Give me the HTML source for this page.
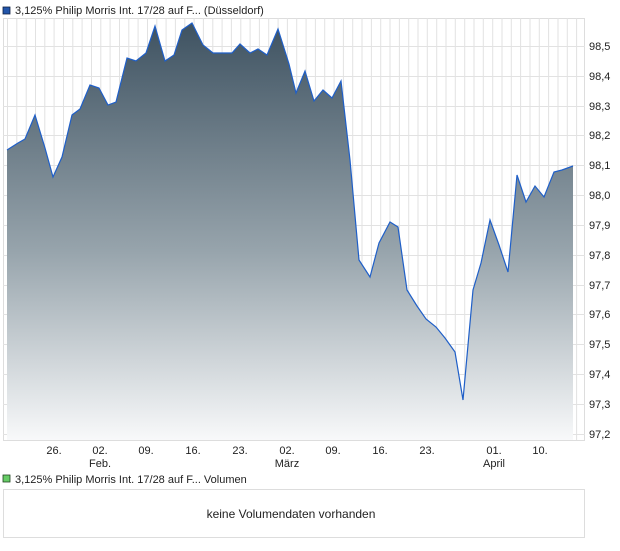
<!DOCTYPE html>
<html><head><meta charset="utf-8"><style>
body{margin:0;background:#fff;font-family:"Liberation Sans",sans-serif;}
</style></head><body>
<svg width="620" height="546" xmlns="http://www.w3.org/2000/svg" font-family="Liberation Sans, sans-serif">
<defs><linearGradient id="g" gradientUnits="userSpaceOnUse" x1="0" y1="20" x2="0" y2="440">
<stop offset="0" stop-color="#3d5160"/><stop offset="0.55" stop-color="#97a4ac"/><stop offset="1" stop-color="#f8f9fa"/></linearGradient></defs>
<rect x="3" y="7" width="7" height="7" fill="#2255aa" stroke="#112244" stroke-width="0.8"/>
<text x="15" y="14" font-size="11" fill="#222">3,125% Philip Morris Int. 17/28 auf F... (Düsseldorf)</text>
<rect x="3.5" y="18.5" width="581" height="422" fill="#fff" stroke="#ddd"/>
<g stroke="#e2e2e2" stroke-width="1">
<line x1="3" y1="46.5" x2="585" y2="46.5"/><line x1="3" y1="76.5" x2="585" y2="76.5"/><line x1="3" y1="106.5" x2="585" y2="106.5"/><line x1="3" y1="135.5" x2="585" y2="135.5"/><line x1="3" y1="165.5" x2="585" y2="165.5"/><line x1="3" y1="195.5" x2="585" y2="195.5"/><line x1="3" y1="225.5" x2="585" y2="225.5"/><line x1="3" y1="255.5" x2="585" y2="255.5"/><line x1="3" y1="285.5" x2="585" y2="285.5"/><line x1="3" y1="314.5" x2="585" y2="314.5"/><line x1="3" y1="344.5" x2="585" y2="344.5"/><line x1="3" y1="374.5" x2="585" y2="374.5"/><line x1="3" y1="404.5" x2="585" y2="404.5"/><line x1="3" y1="434.5" x2="585" y2="434.5"/>
</g>
<g stroke="#e2e2e2" id="vg"></g>
<polygon fill="url(#g)" points="7,440 7,150 18,143 25,139 35,115 45,148 53,177 62,157 72,115 80,109 90,85 99,88 108,105 116,102 127,58 136,61 146,53 155,26 165,61 174,55 182,30 192,23 203,45 213,53 222,53 232,53 240,44 250,53 258,49 267,55 278,29 289,64 296,93 305,71 314,101 323,90 332,98 341,81 350,160 359,260 370,277 379,243 390,222 398,227 407,290 417,306 426,319 436,327 445,338 455,352 463,400 473,290 481,263 490,220 499,245 508,272 517,175 526,202 535,186 544,197 554,172 562,170 573,166 573,440"/>
<polyline fill="none" stroke="#1f5fc8" stroke-width="1.2" points="7,150 18,143 25,139 35,115 45,148 53,177 62,157 72,115 80,109 90,85 99,88 108,105 116,102 127,58 136,61 146,53 155,26 165,61 174,55 182,30 192,23 203,45 213,53 222,53 232,53 240,44 250,53 258,49 267,55 278,29 289,64 296,93 305,71 314,101 323,90 332,98 341,81 350,160 359,260 370,277 379,243 390,222 398,227 407,290 417,306 426,319 436,327 445,338 455,352 463,400 473,290 481,263 490,220 499,245 508,272 517,175 526,202 535,186 544,197 554,172 562,170 573,166"/>
<g font-size="11" fill="#222">
<text x="589" y="50">98,5</text><text x="589" y="80">98,4</text><text x="589" y="110">98,3</text><text x="589" y="139">98,2</text><text x="589" y="169">98,1</text><text x="589" y="199">98,0</text><text x="589" y="229">97,9</text><text x="589" y="259">97,8</text><text x="589" y="289">97,7</text><text x="589" y="318">97,6</text><text x="589" y="348">97,5</text><text x="589" y="378">97,4</text><text x="589" y="408">97,3</text><text x="589" y="438">97,2</text>
</g>
<g font-size="11" fill="#222" text-anchor="middle">
<text x="54" y="454">26.</text><text x="100" y="454">02.</text><text x="146" y="454">09.</text><text x="193" y="454">16.</text><text x="240" y="454">23.</text><text x="287" y="454">02.</text><text x="333" y="454">09.</text><text x="380" y="454">16.</text><text x="427" y="454">23.</text><text x="494" y="454">01.</text><text x="540" y="454">10.</text>
<text x="100" y="467">Feb.</text><text x="287" y="467">März</text><text x="494" y="467">April</text>
</g>
<rect x="3" y="475" width="7" height="7" fill="#66cc66" stroke="#224422" stroke-width="0.8"/>
<text x="15" y="483" font-size="11" fill="#222">3,125% Philip Morris Int. 17/28 auf F... Volumen</text>
<rect x="3.5" y="489.5" width="581" height="48" fill="#fff" stroke="#ddd"/>
<text x="291" y="518" font-size="12" fill="#222" text-anchor="middle">keine Volumendaten vorhanden</text>
</svg>
<script>
var g=document.getElementById('vg');var s='';
for(var x=7.5;x<585;x+=9.33){s+='<line x1="'+x.toFixed(1)+'" y1="18" x2="'+x.toFixed(1)+'" y2="440"/>';}
g.innerHTML=s;
</script>
</body></html>
